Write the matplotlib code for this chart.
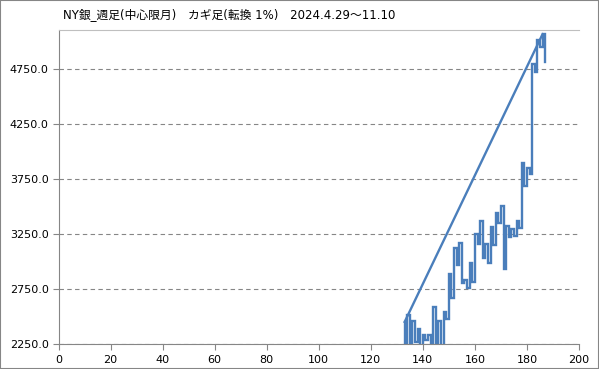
import numpy as np
import matplotlib.pyplot as plt
from matplotlib.patches import Rectangle

plt.rcParams['font.family'] = ['DejaVu Sans', 'Noto Sans CJK JP']

title = "NY銀_週足(中心限月)　カギ足(転換 1%)　2024.4.29～11.10"

# kagi turning levels, first vertical at x = 133
x_start = 133
kagi_levels = [2451, 2230, 2518, 2262, 2460, 2268, 2387, 2230, 2332, 2287,
               2335, 2230, 2589, 2230, 2460, 2230, 2537, 2482, 2888, 2671,
               3123, 2973, 3168, 2802, 2833, 2756, 2985, 2811, 3248, 3160,
               3367, 3034, 3159, 2985, 3311, 3147, 3443, 3351, 3505, 2934,
               3321, 3223, 3300, 3230, 3367, 3306, 3901, 3688, 3855, 3793,
               4802, 4725, 5016, 4950, 5070, 4817]

y_ticks = [2250, 2750, 3250, 3750, 4250, 4750]
x_ticks = [0, 20, 40, 60, 80, 100, 120, 140, 160, 180, 200]

# build step path: vertical at x, then horizontal to x+1
px = [x_start]
py = [kagi_levels[0]]
for i in range(1, len(kagi_levels)):
    x = x_start + i - 1
    px += [x, x + 1]
    py += [kagi_levels[i], kagi_levels[i]]
px = px[:-1]
py = py[:-1]

top = int(np.argmax(py))

fig = plt.figure(figsize=(5.99, 3.69), dpi=100)
ax = fig.add_axes([58.5 / 599, 1 - 344 / 369, (579 - 58.5) / 599, (344 - 30) / 369])

col = '#4A7EBB'
ax.plot(px, py, color=col, lw=1.7, solid_joinstyle='miter')
ax.plot([px[0], px[top]], [py[0], py[top]], color=col, lw=1.7)

ax.set_xlim(0, 200)
ax.set_ylim(2250, 5108)
ax.set_xticks(x_ticks)
ax.set_yticks(y_ticks)
ax.set_yticklabels(['%.1f' % v for v in y_ticks])
ax.yaxis.grid(True, linestyle=(0, (4, 3)), color='#868686', lw=0.8)
ax.set_axisbelow(True)

for s in ['left', 'bottom']:
    ax.spines[s].set_color('#868686')
ax.spines['top'].set_color('#BFBFBF')
ax.spines['right'].set_visible(False)
ax.tick_params(axis='both', colors='#868686', labelcolor='black', labelsize=8,
               length=4, direction='out', width=0.8)
ax.tick_params(axis='y', pad=3)
ax.tick_params(axis='x', pad=4)

fig.text(63 / 599, 1 - 16 / 369, title, fontsize=8.5, va='center', ha='left')
fig.patches.append(Rectangle((0, 0), 1, 1, transform=fig.transFigure,
                             fill=False, edgecolor='#868686', lw=1.5))

fig.savefig('out.png', dpi=100)
